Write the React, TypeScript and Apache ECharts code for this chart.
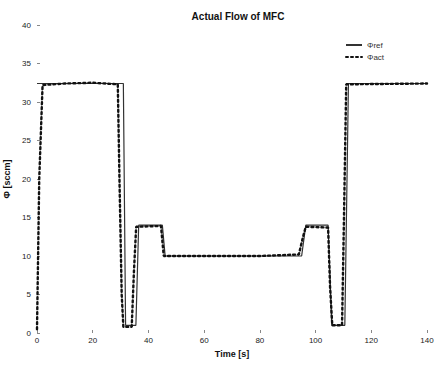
import React, { useEffect, useRef } from "react";
import * as echarts from "echarts";

const titleText = "Actual Flow of MFC";
const xTicks = [0, 20, 40, 60, 80, 100, 120, 140];
const yTicks = [0, 5, 10, 15, 20, 25, 30, 35, 40];

const refTime = [0, 31, 31.8, 35.5, 36.5, 45, 46, 95, 96.5, 104.5, 105.8, 110.5, 111.8, 140];
const refFlow = [32.4, 32.4, 1.0, 1.0, 14, 14, 10, 10, 14, 14, 1.0, 1.0, 32.4, 32.4];

const actTime = [0, 0.8, 2, 10, 20, 29, 29.6, 30.4, 31, 34, 34.8, 35.6, 44.5, 45.5, 60, 80, 94, 95.5, 96.5, 104.5, 105.2, 106, 109.5, 110.2, 111, 140];
const actFlow = [0.5, 20, 32.2, 32.4, 32.5, 32.3, 20, 5, 0.8, 0.8, 8, 13.8, 13.9, 10, 10, 10, 10.2, 12.5, 13.8, 13.7, 6, 1, 1, 15, 32.3, 32.4];

export default function App() {
  const ref = useRef<HTMLDivElement>(null);
  useEffect(() => {
    if (!ref.current) return;
    const chart = echarts.init(ref.current, null, { renderer: "svg" });
    const font = "Liberation Sans, Arial, sans-serif";
    chart.setOption({
      animation: false,
      backgroundColor: "#fff",
      title: {
        text: titleText,
        left: 233,
        textAlign: "center",
        top: 6,
        textStyle: { fontSize: 10, fontWeight: "bold", color: "#111", fontFamily: font },
      },
      legend: {
        left: 340,
        top: 36,
        orient: "vertical",
        itemWidth: 16,
        itemHeight: 6,
        itemGap: 4,
        itemStyle: { opacity: 0 },
        textStyle: { fontSize: 8, color: "#333", fontFamily: font },
        data: ["Φref", "Φact"],
      },
      grid: { left: 37, right: 8, top: 25, bottom: 32, outerBoundsMode: "none", containLabel: false },
      xAxis: {
        type: "value",
        min: 0,
        max: 140,
        interval: 20,
        name: "Time [s]",
        nameLocation: "middle",
        nameGap: 16,
        nameTextStyle: { fontSize: 9, fontWeight: "bold", color: "#111", fontFamily: font },
        axisLine: { show: false },
        axisTick: { show: true, inside: true, length: 3, lineStyle: { color: "#888" } },
        axisLabel: { fontSize: 8, color: "#222", margin: 3, fontFamily: font },
        splitLine: { show: false },
      },
      yAxis: {
        type: "value",
        min: 0,
        max: 40,
        interval: 5,
        name: "Φ [sccm]",
        nameLocation: "middle",
        nameGap: 22,
        nameTextStyle: { fontSize: 9, fontWeight: "bold", color: "#111", fontFamily: font },
        axisLine: { show: false },
        axisTick: { show: true, inside: true, length: 3, lineStyle: { color: "#888" } },
        axisLabel: { fontSize: 8, color: "#222", margin: 6, fontFamily: font },
        splitLine: { show: false },
      },
      series: [
        {
          name: "Φref",
          type: "line",
          symbol: "none",
          data: refTime.map((t, i) => [t, refFlow[i]]),
          lineStyle: { color: "#333", width: 1.2 },
          itemStyle: { color: "#333" },
        },
        {
          name: "Φact",
          type: "line",
          symbol: "none",
          data: actTime.map((t, i) => [t, actFlow[i]]),
          lineStyle: { color: "#111", width: 2.4, type: [2, 3], cap: "round" },
          itemStyle: { color: "#111" },
        },
      ],
    });
    return () => chart.dispose();
  }, []);
  return <div ref={ref} style={{ width: 435, height: 365, position: "absolute", left: 0, top: 0 }} />;
}
